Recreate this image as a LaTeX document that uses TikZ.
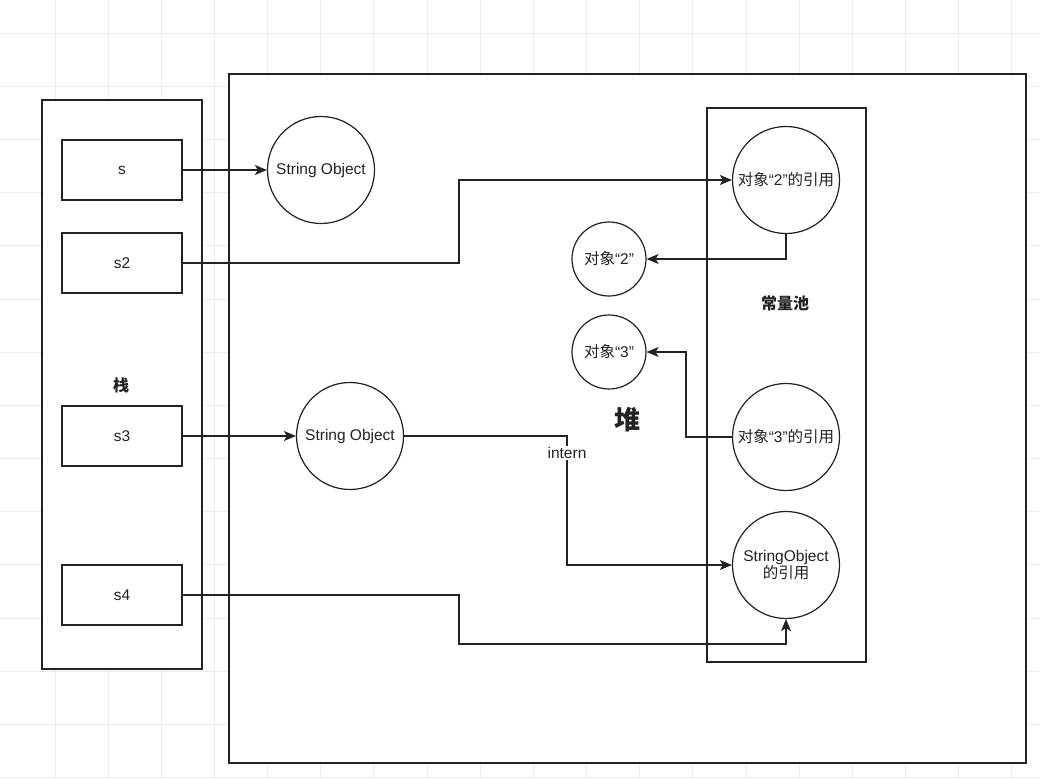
\documentclass[tikz,border=0pt]{standalone}
\usepackage{fontspec}
\setmainfont{Liberation Sans}
\newfontfamily\cjk{Noto Sans CJK SC}
\usetikzlibrary{arrows.meta}
\definecolor{ink}{HTML}{222222}
\definecolor{gridc}{HTML}{EBEBEB}
\tikzset{
  frame/.style={draw=ink, line width=1.2pt, fill=white},
  varbox/.style={draw=ink, line width=1.2pt, fill=white, minimum width=120pt, minimum height=60pt, inner sep=0pt, font=\fontsize{15.5}{18}\selectfont, text=ink},
  bigc/.style={circle, draw=ink, line width=1.2pt, fill=white, minimum size=107pt, inner sep=0pt, align=center, font=\fontsize{15.5}{18}\selectfont, text=ink},
  smallc/.style={circle, draw=ink, line width=1.2pt, fill=white, minimum size=74pt, inner sep=0pt, font=\fontsize{15.5}{18}\selectfont, text=ink},
  arr/.style={draw=ink, line width=1.2pt, -{Stealth[length=12pt, width=10pt, inset=3pt]}},
  lbl/.style={font=\fontsize{15.5}{18}\selectfont, text=ink, inner sep=1pt},
}
\begin{document}
\begin{tikzpicture}[x=1pt, y=-1pt]
\useasboundingbox (0,0) rectangle (1040,778);
\fill[white] (0,0) rectangle (1040,778);
% background grid
\foreach \i in {0,...,18} {
  \draw[gridc, line width=0.9pt] ({55+53.15*\i},0) -- ({55+53.15*\i},778);
}
\foreach \j in {0,...,14} {
  \draw[gridc, line width=0.9pt] (0,{33.3+53.15*\j}) -- (1040,{33.3+53.15*\j});
}
% containers
\node[frame, rectangle, minimum width=797pt, minimum height=689pt, inner sep=0pt] (heap) at (627.5,418.5) {};
\node[frame, rectangle, minimum width=160pt, minimum height=569pt, inner sep=0pt] (stack) at (122,384.5) {};
\node[frame, rectangle, minimum width=159pt, minimum height=554pt, inner sep=0pt] (pool) at (786.5,385) {};
% labels
\node[lbl, font=\fontsize{16}{18}\selectfont\cjk\bfseries] (stacklbl) at (121,385) {栈};
\node[lbl, font=\fontsize{16}{18}\selectfont\cjk\bfseries] (poollbl) at (785,303) {常量池};
\node[lbl, font=\fontsize{26}{30}\selectfont\cjk\bfseries] (heaplbl) at (627,420) {堆};
% stack variables
\node[varbox] (s)  at (122,170) {s};
\node[varbox] (s2) at (122,263) {s2};
\node[varbox] (s3) at (122,436) {s3};
\node[varbox] (s4) at (122,595) {s4};
% heap objects
\node[bigc] (so1) at (321,170) {String Object};
\node[bigc] (so2) at (350,436) {String Object};
\node[smallc] (o2) at (609,259) {{\cjk 对象}“2”};
\node[smallc] (o3) at (609,352) {{\cjk 对象}“3”};
% pool entries
\node[bigc] (ref2) at (786,180) {{\cjk 对象}“2”{\cjk 的引用}};
\node[bigc] (ref3) at (786,437) {{\cjk 对象}“3”{\cjk 的引用}};
\node[bigc] (refso) at (786,565) {StringObject\\[-1pt]{\cjk 的引用}};
% bend points
\coordinate (k1) at (459,263);
\coordinate (k2) at (686,437);
\coordinate (k3) at (567,436);
\coordinate (k4) at (459,595);
\coordinate (k5) at (786,644);
% connectors
\draw[arr] (s.east) -- (so1.west);
\draw[arr] (s2.east) -- (k1) |- (ref2.west);
\draw[arr] (ref2.south) |- (o2.east);
\draw[arr] (ref3.west) -- (k2) |- (o3.east);
\draw[arr] (s3.east) -- (so2.west);
\draw[arr] (so2.east) -- (k3) |- (refso.west);
\node[lbl, fill=white] (intern) at (567,453) {intern};
\draw[arr] (s4.east) -- (k4) |- (k5) -- (refso.south);
\end{tikzpicture}
\end{document}
